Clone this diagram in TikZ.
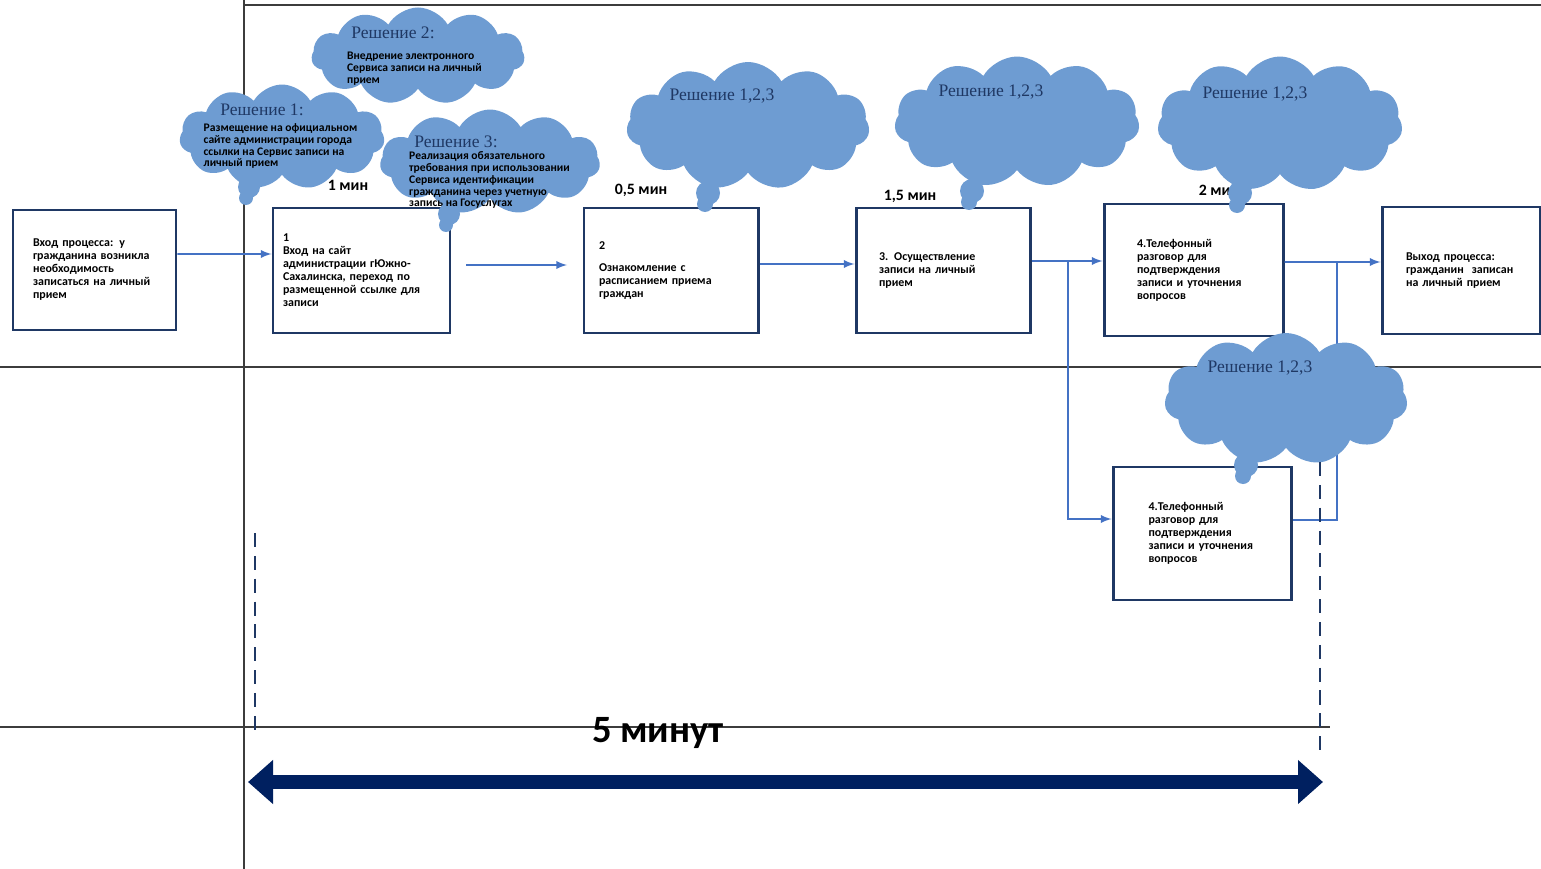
\documentclass[tikz,border=0pt]{standalone}
\usepackage{fontspec}
\setmainfont{Liberation Serif}
\newfontfamily\calib{Carlito}
\usetikzlibrary{shapes.symbols,arrows.meta}
\definecolor{navy}{RGB}{31,56,100}
\definecolor{deepnavy}{RGB}{0,32,96}
\definecolor{flowblue}{RGB}{68,114,196}
\definecolor{cloudblue}{RGB}{110,156,210}
\definecolor{gridgray}{RGB}{60,60,60}
\begin{document}
\begin{tikzpicture}[>=latex,
		proc/.style={draw=navy,line width=1.7pt,fill=white,align=left,font=\calib\bfseries\fontsize{6.8}{7.4}\selectfont},
		think/.style={cloud,cloud puffs=11,cloud puff arc=120,cloud ignores aspect,fill=cloudblue,draw=none,inner sep=0pt},
		sol/.style={font=\fontsize{10}{12}\selectfont,text=navy},
		note/.style={font=\calib\bfseries\fontsize{6.6}{6.8}\selectfont,align=left,inner sep=0pt},
		tm/.style={font=\calib\bfseries\fontsize{9}{10}\selectfont},
		flow/.style={draw=flowblue,line width=1.1pt},
		gridline/.style={gridgray,line width=0.8pt},
		timeline/.style={navy,line width=1.3pt,dash pattern=on 8pt off 5pt}]
	\useasboundingbox (0,0) rectangle (30.82,-17.38);
	% rules of the table
	\draw[gridline] (4.88,0) -- (4.88,-17.38);
	\draw[gridline] (4.88,-0.10) -- (30.82,-0.10);
	\draw[gridline] (0,-7.34) -- (30.82,-7.34);
	\draw[gridline] (0,-14.54) -- (26.60,-14.54);
	% steps of the process
	\node[proc,minimum width=3.26cm,minimum height=2.40cm,text width=2.46cm] (b0) at (1.89,-5.40) {Вход процесса: у\\гражданина возникла\\необходимость\\записаться на личный\\прием};
	\node[proc,minimum width=3.54cm,minimum height=2.50cm,text width=3.14cm] (b1) at (7.23,-5.41) {1\\Вход на сайт\\администрации гЮжно-\\Сахалинска, переход по\\размещенной ссылке для\\записи};
	\node[proc,minimum width=3.48cm,minimum height=2.50cm,text width=2.88cm] (b2) at (13.42,-5.41) {2\\[5pt]Ознакомление с\\расписанием приема\\граждан};
	\node[proc,minimum width=3.48cm,minimum height=2.50cm,text width=2.56cm] (b3) at (18.86,-5.41) {3. Осуществление\\записи на личный\\прием};
	\node[proc,minimum width=3.58cm,minimum height=2.64cm,text width=2.26cm] (b4) at (23.87,-5.40) {4.Телефонный\\разговор для\\подтверждения\\записи и уточнения\\вопросов};
	\node[proc,minimum width=3.16cm,minimum height=2.54cm,text width=2.20cm] (b5) at (29.22,-5.41) {Выход процесса:\\гражданин\ \ записан\\на личный прием};
	\node[proc,minimum width=3.56cm,minimum height=2.66cm,text width=2.14cm] (b6) at (24.04,-10.67) {4.Телефонный\\разговор для\\подтверждения\\записи и уточнения\\вопросов};
	% connectors
	\coordinate (a1) at (9.32,-5.30);
	\coordinate (a2) at (11.34,-5.30);
	\coordinate (sp) at (21.36,-5.22);
	\coordinate (jn) at (26.74,-5.24);
	\draw[flow,->] ([yshift=0.32cm]b0.east) -- ([yshift=0.33cm]b1.west);
	\draw[flow,->] (a1) -- (a2);
	\draw[flow,->] ([yshift=0.13cm]b2.east) -- ([yshift=0.13cm]b3.west);
	\draw[flow,->] ([yshift=0.19cm]b3.east) -- ([yshift=0.18cm]b4.west);
	\draw[flow,->] (sp) |- ([yshift=0.29cm]b6.west);
	\draw[flow,->] ([yshift=0.16cm]b4.east) -- ([yshift=0.17cm]b5.west);
	\draw[flow] ([yshift=0.27cm]b6.east) -| (jn);
	% times
	\node[tm] (m1) at (6.96,-3.70) {1 мин};
	\node[tm] (m2) at (12.82,-3.80) {0,5 мин};
	\node[tm] (m3) at (18.20,-3.92) {1,5 мин};
	\node[tm] (m4) at (24.38,-3.80) {2 мин};
	% clouds
	\node[think,minimum width=4.26cm,minimum height=1.94cm] (c2) at (8.36,-1.12) {};
	\node[think,minimum width=4.1cm,minimum height=2.1cm] (c1) at (5.64,-2.74) {};
	\node[think,minimum width=4.4cm,minimum height=2.1cm] (c3) at (9.80,-3.24) {};
	\node[think,minimum width=4.86cm,minimum height=2.56cm] (c4) at (14.96,-2.52) {};
	\node[think,minimum width=4.9cm,minimum height=2.62cm] (c5) at (20.34,-2.44) {};
	\node[think,minimum width=4.9cm,minimum height=2.7cm] (c6) at (25.60,-2.48) {};
	\node[think,minimum width=4.86cm,minimum height=2.64cm] (c7) at (25.72,-7.98) {};
	% tails of the clouds
	\fill[cloudblue] (4.98,-3.74) circle (0.22) (4.92,-3.96) circle (0.14);
	\fill[cloudblue] (8.98,-4.28) circle (0.22) (8.92,-4.50) circle (0.14);
	\fill[cloudblue] (14.16,-3.86) circle (0.24) (14.10,-4.08) circle (0.16);
	\fill[cloudblue] (19.44,-3.82) circle (0.24) (19.38,-4.04) circle (0.16);
	\fill[cloudblue] (24.80,-3.86) circle (0.24) (24.74,-4.10) circle (0.16);
	\fill[cloudblue] (24.92,-9.30) circle (0.24) (24.86,-9.52) circle (0.16);
	% texts of the clouds
	\node[sol] (s1) at (5.24,-2.20) {Решение 1:};
	\node[note] (n1) at (5.61,-2.92) {Размещение на официальном\\сайте администрации города\\ссылки на Сервис записи на\\личный прием};
	\node[sol] (s2) at (7.86,-0.66) {Решение 2:};
	\node[note] (n2) at (8.29,-1.38) {Внедрение электронного\\Сервиса записи на личный\\прием};
	\node[sol] (s3) at (9.12,-2.84) {Решение 3:};
	\node[note] (n3) at (9.79,-3.60) {Реализация обязательного\\требования при использовании\\Сервиса идентификации\\гражданина через учетную\\запись на Госуслугах};
	\node[sol] (s4) at (14.44,-1.92) {Решение 1,2,3};
	\node[sol] (s5) at (19.82,-1.84) {Решение 1,2,3};
	\node[sol] (s6) at (25.10,-1.88) {Решение 1,2,3};
	\node[sol] (s7) at (25.20,-7.36) {Решение 1,2,3};
	% total time
	\draw[timeline] (5.10,-10.66) -- (5.10,-14.74);
	\draw[timeline] (26.40,-9.24) -- (26.40,-15.14);
	\coordinate (t0) at (4.96,-15.64);
	\coordinate (t1) at (26.46,-15.64);
	\draw[deepnavy,line width=8pt,{Triangle[length=0.5cm,width=0.85cm]}-{Triangle[length=0.5cm,width=0.85cm]}] (t0) -- (t1);
	\node[font=\calib\bfseries\fontsize{22}{24}\selectfont] (total) at (13.16,-14.66) {5 минут};
\end{tikzpicture}
\end{document}
